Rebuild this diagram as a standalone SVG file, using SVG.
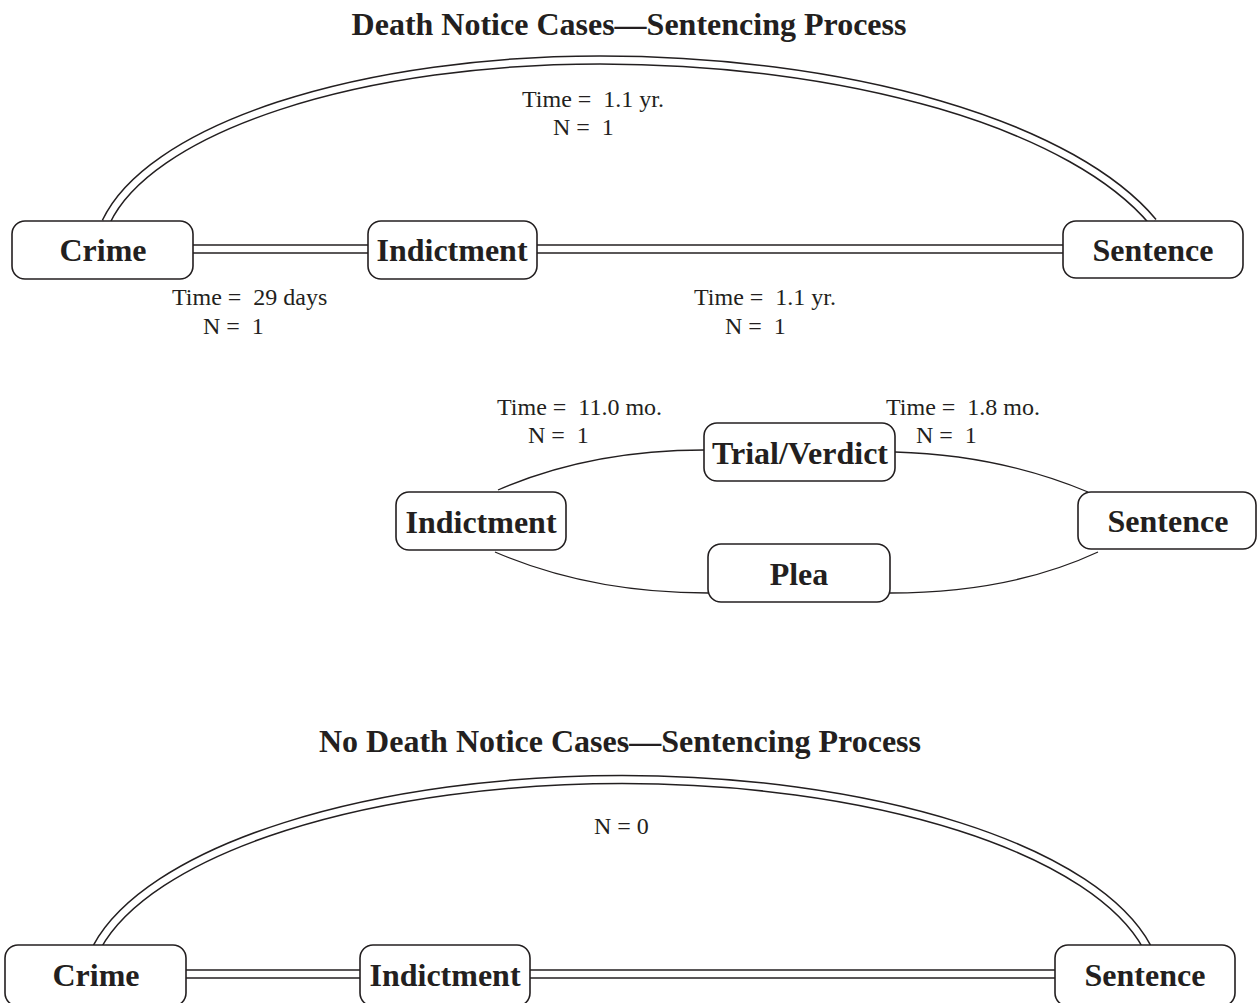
<svg xmlns="http://www.w3.org/2000/svg" width="1257" height="1003" viewBox="0 0 1257 1003">
<style>
.box{fill:#fff;stroke:#231f20;stroke-width:1.6}
.nl{font-family:"Liberation Serif",serif;font-weight:bold;font-size:32px;fill:#231f20;text-anchor:middle}
.ttl{font-family:"Liberation Serif",serif;font-weight:bold;font-size:32px;fill:#231f20;text-anchor:middle}
.lb{font-family:"Liberation Serif",serif;font-size:24px;fill:#231f20}
.dO{fill:none;stroke:#231f20;stroke-width:9.5}
.dI{fill:none;stroke:#fff;stroke-width:6.5}
.s{fill:none;stroke:#231f20;stroke-width:1.3}
</style>
<rect width="1257" height="1003" fill="#fff"/>
<text class="ttl" x="629" y="35">Death Notice Cases—Sentencing Process</text>
<text class="ttl" x="620" y="752">No Death Notice Cases—Sentencing Process</text>
<g id="connectors">
<path class="dO" d="M106,222 A502.8 198 0 0 1 600,60 A585.6 240 0 0 1 1153,222"/>
<path class="dI" d="M106,222 A502.8 198 0 0 1 600,60 A585.6 240 0 0 1 1153,222"/>
<path class="dO" d="M190,249 H1066"/>
<path class="dI" d="M190,249 H1066"/>
<path class="dO" d="M97,947 A537 212 0 0 1 1147,947"/>
<path class="dI" d="M97,947 A537 212 0 0 1 1147,947"/>
<path class="dO" d="M183,974 H1058"/>
<path class="dI" d="M183,974 H1058"/>
<path class="s" d="M498,490 Q590,450 704,450"/>
<path class="s" d="M495,552 Q590,593 708,593"/>
<path class="s" d="M895,452 Q1000,455 1088,492"/>
<path class="s" d="M890,593 Q1010,593 1098,552"/>
</g>
<g id="lbl">
<text class="lb" x="522" y="107" xml:space="preserve">Time =  1.1 yr.</text>
<text class="lb" x="553" y="135" xml:space="preserve">N =  1</text>
<text class="lb" x="172" y="305" xml:space="preserve">Time =  29 days</text>
<text class="lb" x="203" y="334" xml:space="preserve">N =  1</text>
<text class="lb" x="694" y="305" xml:space="preserve">Time =  1.1 yr.</text>
<text class="lb" x="725" y="334" xml:space="preserve">N =  1</text>
<text class="lb" x="497" y="415" xml:space="preserve">Time =  11.0 mo.</text>
<text class="lb" x="528" y="443" xml:space="preserve">N =  1</text>
<text class="lb" x="886" y="415" xml:space="preserve">Time =  1.8 mo.</text>
<text class="lb" x="916" y="443" xml:space="preserve">N =  1</text>
<text class="lb" x="594" y="834">N = 0</text>
</g>
<g id="crime1"><rect class="box" x="12" y="221" width="181" height="58" rx="13"/><text class="nl" x="103" y="261">Crime</text></g>
<g id="indict1"><rect class="box" x="368" y="221" width="169" height="58" rx="13"/><text class="nl" x="452" y="261">Indictment</text></g>
<g id="sent1"><rect class="box" x="1063" y="221" width="180" height="57" rx="13"/><text class="nl" x="1153" y="261">Sentence</text></g>
<g id="trial"><rect class="box" x="704" y="423" width="191" height="58" rx="13"/><text class="nl" x="800" y="464">Trial/Verdict</text></g>
<g id="indict2"><rect class="box" x="396" y="492" width="170" height="58" rx="13"/><text class="nl" x="481" y="533">Indictment</text></g>
<g id="plea"><rect class="box" x="708" y="544" width="182" height="58" rx="13"/><text class="nl" x="799" y="585">Plea</text></g>
<g id="sent2"><rect class="box" x="1078" y="492" width="178" height="57" rx="13"/><text class="nl" x="1168" y="532">Sentence</text></g>
<g id="crime2"><rect class="box" x="5" y="945" width="181" height="61" rx="13"/><text class="nl" x="96" y="986">Crime</text></g>
<g id="indict2b"><rect class="box" x="360" y="945" width="170" height="61" rx="13"/><text class="nl" x="445" y="986">Indictment</text></g>
<g id="sent3"><rect class="box" x="1055" y="945" width="180" height="61" rx="13"/><text class="nl" x="1145" y="986">Sentence</text></g>
</svg>
